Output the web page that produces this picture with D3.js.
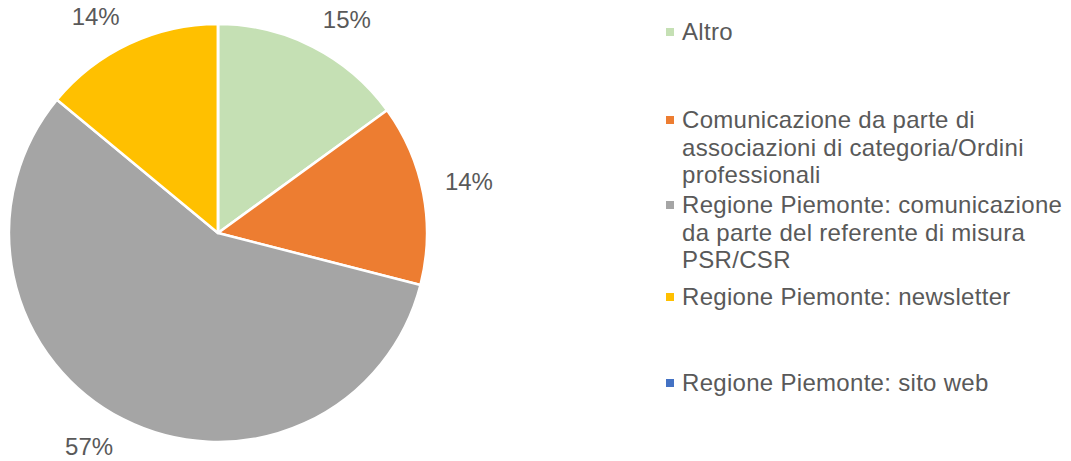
<!DOCTYPE html>
<html>
<head>
<meta charset="utf-8">
<script src="https://cdn.jsdelivr.net/npm/d3@7/dist/d3.min.js"></script>
<style>
  html, body { margin: 0; padding: 0; background: #ffffff; }
  svg { display: block; }
  text { font-family: "Liberation Sans", Arial, sans-serif; fill: #595959; }
</style>
</head>
<body>
<svg id="chart" width="1071" height="461"></svg>
<script>
// Canali informativi: quota percentuale per canale
const categories = [
  "Altro",
  "Comunicazione da parte di associazioni di categoria/Ordini professionali",
  "Regione Piemonte: comunicazione da parte del referente di misura PSR/CSR",
  "Regione Piemonte: newsletter",
  "Regione Piemonte: sito web"
];
const values = [15, 14, 57, 14, 0];
const colors = ["#C5E0B4", "#ED7D31", "#A5A5A5", "#FFC000", "#4472C4"];
// Legend text, already wrapped as shown
const legendLines = [
  ["Altro"],
  ["Comunicazione da parte di", "associazioni di categoria/Ordini", "professionali"],
  ["Regione Piemonte: comunicazione", "da parte del referente di misura", "PSR/CSR"],
  ["Regione Piemonte: newsletter"],
  ["Regione Piemonte: sito web"]
];

const svg = d3.select("#chart");
const cx = 218, cy = 233, radius = 209;
const fontSize = 24;

const pie = d3.pie().sort(null).value(d => d)(values);
const arc = d3.arc().innerRadius(0).outerRadius(radius);

const g = svg.append("g").attr("transform", `translate(${cx},${cy})`);

g.selectAll("path.slice")
  .data(pie)
  .join("path")
  .attr("class", "slice")
  .attr("d", arc)
  .attr("fill", (d, i) => colors[i])
  .attr("stroke", "#ffffff")
  .attr("stroke-width", 2.5)
  .attr("stroke-linejoin", "round");

// Percent labels placed just outside the rim, box corner touching the ray
const fmt = d => d3.format(".0f")(d) + "%";
const labelGap = 22;
const boxW = 48, boxH = 16;
g.selectAll("text.pct")
  .data(pie.filter(d => d.value > 0))
  .join("text")
  .attr("class", "pct")
  .attr("text-anchor", "middle")
  .attr("font-size", fontSize)
  .each(function(d) {
    const a = (d.startAngle + d.endAngle) / 2;
    const r = radius + labelGap;
    const sx = Math.sin(a), sy = -Math.cos(a);
    const x = sx * r + Math.sign(sx) * boxW / 2;
    const y = sy * r + Math.sign(sy) * boxH / 2;
    d3.select(this)
      .attr("x", x)
      .attr("y", y)
      .attr("dy", "0.358em")
      .text(fmt(d.value));
  });

// Legend
const legendX = 666;
const textX = 682;
const lineH = 27.5;
const entryBaselines = [40, 128, 213, 305, 391];
const marker = 8;

const legend = svg.append("g").attr("class", "legend");
const items = legend.selectAll("g.item")
  .data(categories)
  .join("g")
  .attr("class", "item");

items.append("rect")
  .attr("x", legendX)
  .attr("y", (d, i) => entryBaselines[i] - 8 - marker / 2)
  .attr("width", marker)
  .attr("height", marker)
  .attr("fill", (d, i) => colors[i]);

items.append("text")
  .attr("font-size", fontSize)
  .attr("letter-spacing", "0.3px")
  .each(function(d, i) {
    d3.select(this).selectAll("tspan")
      .data(legendLines[i])
      .join("tspan")
      .attr("x", textX)
      .attr("y", (t, j) => entryBaselines[i] + j * lineH)
      .text(t => t);
  });
</script>
</body>
</html>
